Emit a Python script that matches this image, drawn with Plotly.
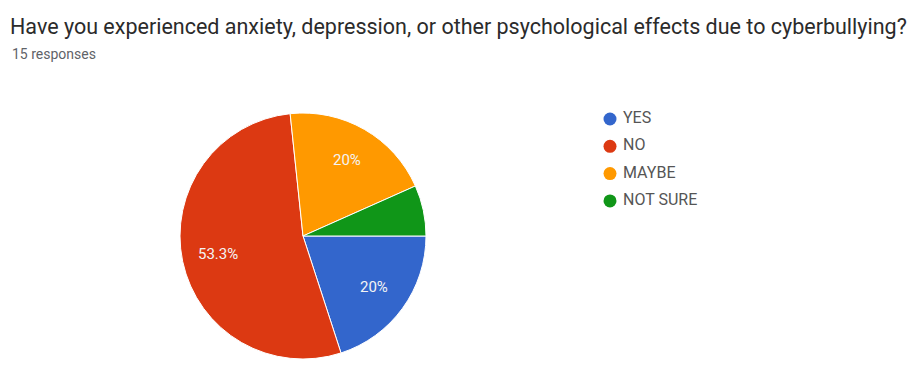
import math
import plotly.graph_objects as go

# Survey answers and response counts (15 responses total)
categories = ["YES", "NO", "MAYBE", "NOT SURE"]
counts = [3, 8, 3, 1]
colors = ["#3366cc", "#dc3912", "#ff9900", "#109618"]

question = "Have you experienced anxiety, depression, or other psychological effects due to cyberbullying?"
subtitle = f"{sum(counts)} responses"

W, H = 911, 367
FONT = "Roboto, Arial, sans-serif"

# Pie placement (pixels)
PIE_X0, PIE_X1 = 180, 426
PIE_Y0, PIE_Y1 = 112, 360
LABEL_R = 0.71        # label distance as a fraction of the radius
LABEL_MIN_SHARE = 0.1  # slices smaller than this get no label


def pct_text(share):
    s = f"{share * 100:.1f}".rstrip("0").rstrip(".")
    return s + "%"


total = sum(counts)
shares = [c / total for c in counts]

fig = go.Figure()

fig.add_trace(go.Pie(
    labels=categories,
    values=counts,
    marker=dict(colors=colors, line=dict(color="white", width=1)),
    sort=False,
    direction="clockwise",
    rotation=90,
    textinfo="none",
    hoverinfo="label+value+percent",
    showlegend=False,
    domain=dict(x=[PIE_X0 / W, PIE_X1 / W], y=[1 - PIE_Y1 / H, 1 - PIE_Y0 / H]),
))

# Percentage labels, placed along each slice's mid-angle
cx = (PIE_X0 + PIE_X1) / 2
cy = (PIE_Y0 + PIE_Y1) / 2
radius = min(PIE_X1 - PIE_X0, PIE_Y1 - PIE_Y0) / 2
annotations = []
start = 0.0  # degrees, clockwise from 3 o'clock
for share in shares:
    sweep = share * 360
    mid = math.radians(start + sweep / 2)
    start += sweep
    if share < LABEL_MIN_SHARE:
        continue
    px = cx + LABEL_R * radius * math.cos(mid)
    py = cy + LABEL_R * radius * math.sin(mid)
    annotations.append(dict(
        text=pct_text(share), x=px / W, y=1 - py / H,
        xref="paper", yref="paper", xanchor="center", yanchor="middle",
        showarrow=False, font=dict(family=FONT, size=15, color="#f4f4f4"),
    ))

# Legend: circle swatches with category names
idx = list(range(len(categories)))
fig.add_trace(go.Scatter(
    x=[0] * len(categories), y=idx, mode="markers",
    marker=dict(symbol="circle", size=13, color=colors),
    hoverinfo="skip", showlegend=False, cliponaxis=False,
))
fig.add_trace(go.Scatter(
    x=[13] * len(categories), y=idx, mode="text", text=categories,
    textposition="middle right",
    textfont=dict(family=FONT, size=16, color="#555555"),
    hoverinfo="skip", showlegend=False, cliponaxis=False,
))

ROW0, ROW_STEP = 119, 27.3
fig.update_layout(
    width=W, height=H,
    margin=dict(l=0, r=0, t=0, b=0),
    paper_bgcolor="white",
    plot_bgcolor="rgba(0,0,0,0)",
    xaxis=dict(visible=False, range=[0, 100], domain=[610 / W, 710 / W], fixedrange=True),
    yaxis=dict(visible=False, range=[3.5, -0.5],
               domain=[1 - (ROW0 + 3.5 * ROW_STEP) / H, 1 - (ROW0 - 0.5 * ROW_STEP) / H],
               fixedrange=True),
    annotations=annotations + [
        dict(text=question, x=8 / W, y=1 - 26 / H, xref="paper", yref="paper",
             xanchor="left", yanchor="middle", showarrow=False,
             font=dict(family=FONT, size=21.5, color="#2b2b2b")),
        dict(text=subtitle, x=10 / W, y=1 - 54 / H, xref="paper", yref="paper",
             xanchor="left", yanchor="middle", showarrow=False,
             font=dict(family=FONT, size=14, color="#5f6368")),
    ],
)

fig.write_html("out.html")
